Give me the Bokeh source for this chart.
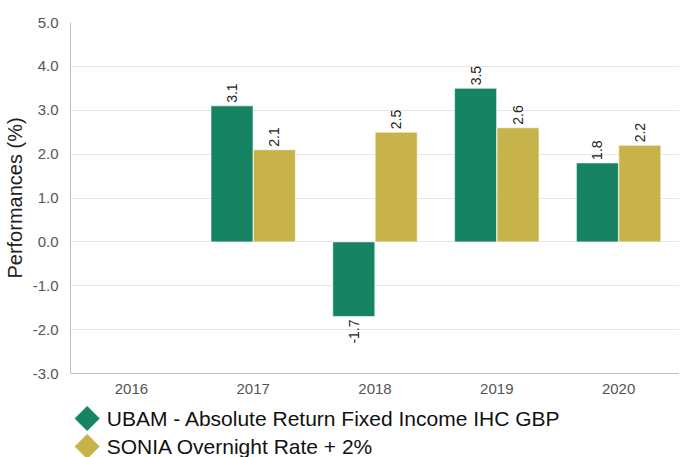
import math
from bokeh.plotting import figure
from bokeh.models import ColumnDataSource, FactorRange, Range1d, FixedTicker, NumeralTickFormatter
from bokeh.transform import dodge
from bokeh.layouts import column
from bokeh.embed import file_html
from bokeh.resources import INLINE
from bokeh.core.properties import value

years = ["2016", "2017", "2018", "2019", "2020"]
fund = [float("nan"), 3.1, -1.7, 3.5, 1.8]
bench = [float("nan"), 2.1, 2.5, 2.6, 2.2]
series_names = ["UBAM - Absolute Return Fixed Income IHC GBP", "SONIA Overnight Rate + 2%"]
y_ticks = [-3, -2, -1, 0, 1, 2, 3, 4, 5]

GREEN = "#168463"
GOLD = "#c7b34a"
FONT = "Liberation Sans"

p = figure(x_range=FactorRange(*years, range_padding=0), y_range=Range1d(-3, 5),
           width=679, height=403, output_backend="svg", toolbar_location=None,
           min_border_left=57, min_border_right=0, min_border_top=22, min_border_bottom=30)
p.outline_line_color = None
p.xgrid.grid_line_color = None
p.ygrid.grid_line_color = "#e6e6e6"
p.ygrid.ticker = FixedTicker(ticks=y_ticks)
p.yaxis.ticker = FixedTicker(ticks=y_ticks)
p.yaxis.formatter = NumeralTickFormatter(format="0.0")
for ax in (p.xaxis[0], p.yaxis[0]):
    ax.major_tick_line_color = None
    ax.minor_tick_line_color = None
    ax.axis_line_color = "#c0c0c0"
    ax.major_label_text_font = FONT
    ax.major_label_text_font_size = "15px"
    ax.major_label_text_color = "#555555"
p.yaxis.major_label_standoff = 6
p.xaxis.major_label_standoff = 4
p.yaxis.axis_label = "Performances (%)"
p.yaxis.axis_label_text_font = FONT
p.yaxis.axis_label_text_font_size = "20px"
p.yaxis.axis_label_text_font_style = "normal"
p.yaxis.axis_label_text_color = "#222222"
p.yaxis.axis_label_standoff = 4

src = ColumnDataSource(dict(year=years, fund=fund, bench=bench))
off = 0.174
bw = 0.345
p.vbar(x=dodge("year", -off, range=p.x_range), top="fund", bottom=0, width=bw,
       source=src, fill_color=GREEN, line_color="white", line_width=0.6)
p.vbar(x=dodge("year", off, range=p.x_range), top="bench", bottom=0, width=bw,
       source=src, fill_color=GOLD, line_color="white", line_width=0.6)

for vals, o in ((fund, -off), (bench, off)):
    for sign in (1, -1):
        sel = [(y, v) for y, v in zip(years, vals) if not math.isnan(v) and (v >= 0) == (sign > 0)]
        ls = ColumnDataSource(dict(year=[s[0] for s in sel], v=[s[1] for s in sel],
                                   t=[f"{s[1]:.1f}" for s in sel]))
        p.text(x=dodge("year", o, range=p.x_range), y="v", text="t", source=ls,
               angle=math.pi / 2, text_align="left" if sign > 0 else "right",
               text_baseline="middle", y_offset=-3 * sign,
               text_font=value(FONT), text_font_size="14px", text_color="#222222")

# legend panel
leg = figure(width=679, height=54, x_range=Range1d(0, 622), y_range=Range1d(54, 0),
             output_backend="svg", toolbar_location=None,
             min_border=0, min_border_left=57, min_border_right=0, min_border_top=0, min_border_bottom=0)
leg.axis.visible = False
leg.grid.visible = False
leg.outline_line_color = None
lsrc = ColumnDataSource(dict(x=[17, 17], y=[15, 43], c=[GREEN, GOLD],
                             tx=[37, 37], t=series_names))
leg.scatter(x="x", y="y", source=lsrc, marker="square", angle=math.pi / 4, size=17,
            fill_color="c", line_color="c")
leg.text(x="tx", y="y", text="t", source=lsrc, text_align="left", text_baseline="middle",
         text_font=value(FONT), text_font_size="21px", text_color="#111111")

layout = column(p, leg, spacing=0)
open("out.html", "w").write(file_html(layout, INLINE))
